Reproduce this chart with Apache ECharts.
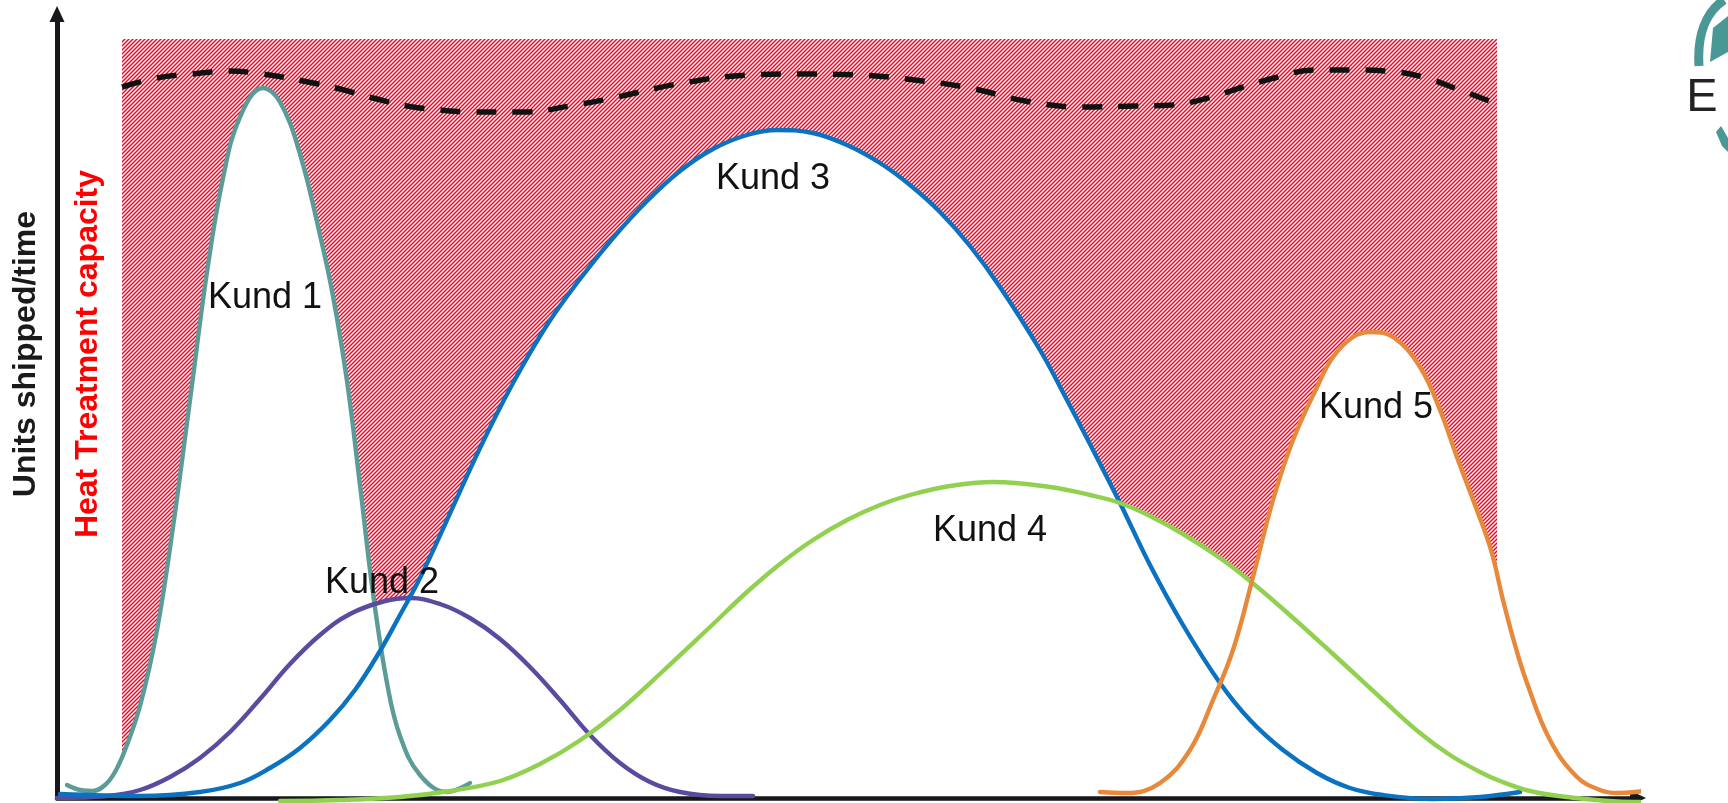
<!DOCTYPE html>
<html>
<head>
<meta charset="utf-8">
<script src="https://cdn.jsdelivr.net/npm/echarts@6/dist/echarts.min.js"></script>
<style>
html,body{margin:0;padding:0;background:#fff;}
#chart{width:1728px;height:803px;}
</style>
</head>
<body>
<div id="chart"></div>
<script>
// ---- data (x: time units, y: units shipped/time) ----
const customers = ['Kund 1', 'Kund 2', 'Kund 3', 'Kund 4', 'Kund 5'];
const kund1 = [[10,13],[23,8],[36,7],[48,13],[58,26],[68,48],[83,92],[100,168],[116,271],[133,398],[150,526],[166,620],[183,681],[206,710],[223,696],[243,644],[263,563],[276,502],[290,417],[303,313],[316,205],[330,115],[343,62],[363,23],[390,6],[413,15]];
const kund2 = [[0,0],[50,2],[83,8],[113,21],[143,40],[173,66],[203,99],[233,134],[263,163],[293,184],[328,197],[353,200],[383,194],[413,180],[443,159],[473,131],[503,98],[533,63],[563,35],[593,16],[623,6],[663,2],[696,2]];
const kund3 = [[3,4],[83,2],[143,6],[183,15],[213,30],[243,50],[273,78],[298,108],[323,147],[343,183],[363,220],[390,278],[423,350],[456,415],[490,473],[523,519],[556,560],[590,597],[623,627],[656,649],[690,663],[720,668],[756,665],[790,653],[823,635],[853,613],[883,586],[913,552],[943,511],[983,448],[1010,398],[1036,348],[1063,295],[1093,233],[1126,173],[1163,115],[1193,78],[1226,48],[1260,25],[1293,10],[1326,3],[1376,-1],[1423,1],[1463,6]];
const kund4 = [[223,-3],[283,-2],[343,1],[393,7],[443,17],[483,34],[522,57],[563,88],[605,126],[653,171],[690,206],[723,234],[756,258],[790,278],[823,293],[853,303],[893,312],[936,316],[993,311],[1033,303],[1063,295],[1093,282],[1126,264],[1163,240],[1193,217],[1226,189],[1276,144],[1326,98],[1363,65],[1393,43],[1423,26],[1443,17],[1473,7],[1510,1],[1576,-4],[1671,-2]];
const kund5 = [[1043,6],[1070,5],[1103,15],[1133,48],[1156,98],[1176,148],[1196,221],[1216,298],[1236,358],[1260,411],[1276,441],[1296,461],[1313,466],[1336,461],[1363,431],[1383,388],[1401,338],[1418,293],[1434,248],[1446,198],[1458,153],[1470,115],[1493,58],[1520,21],[1543,8],[1560,5],[1578,6],[1596,9]];
const demandTotal = [[65,711],[100,720],[135,724],[170,727],[206,724],[246,717],[283,709],[316,700],[350,692],[383,688],[416,686],[466,686],[513,692],[560,701],[626,715],[692,723],[747,724],[803,723],[858,718],[913,710],[968,697],[1023,691],[1078,692],[1115,693],[1151,700],[1186,711],[1221,721],[1256,728],[1293,728],[1330,727],[1366,721],[1400,709],[1438,695]];
const capStart = 65, capEnd = 1440, capTop = 759;
const labelPos = [[208,500],[325,215],[716,619],[933,267],[1319,390]];
const yTitle = 'Units shipped/time';
const capTitle = 'Heat Treatment capacity';

const curves = [kund1, kund2, kund3, kund4, kund5];
const colors = ['#5b9b98', '#5b4b9f', '#0a72c0', '#92d050', '#e8883a'];

// hatch pattern
const pc = document.createElement('canvas');
pc.width = 4; pc.height = 4;
const g = pc.getContext('2d');
g.fillStyle = '#ffffff'; g.fillRect(0,0,4,4);
g.strokeStyle = '#d0102f'; g.lineWidth = 1.45;
g.beginPath();
g.moveTo(0,4); g.lineTo(4,0);
g.moveTo(-1,1); g.lineTo(1,-1);
g.moveTo(3,5); g.lineTo(5,3);
g.stroke();

const FONT = "'Liberation Sans', Arial, Helvetica, sans-serif";

const series = [];
series.push({
  type: 'line', name: 'capacity', data: [[capStart, capTop], [capEnd, capTop]],
  symbol: 'none', lineStyle: {width: 0, opacity: 0},
  areaStyle: {color: {image: pc, repeat: 'repeat'}, opacity: 1},
  z: 1, silent: true
});
curves.forEach((d, i) => {
  series.push({
    type: 'line', name: customers[i] + ' fill', data: d, smooth: 0.4, symbol: 'none',
    lineStyle: {width: 0, opacity: 0}, areaStyle: {color: '#ffffff', opacity: 1},
    z: 2, silent: true, clip: false
  });
});
curves.forEach((d, i) => {
  series.push({
    type: 'line', name: customers[i], data: d, smooth: 0.4, symbol: 'none',
    lineStyle: {width: 4.4, color: colors[i], cap: 'round'},
    z: 4, silent: true, clip: false
  });
});
series.push({
  type: 'line', name: 'demand', data: demandTotal, smooth: 0.4, symbol: 'none',
  lineStyle: {width: 5.5, color: '#111111', type: [20, 16], cap: 'butt'},
  z: 5, silent: true
});
series.push({
  type: 'scatter', name: 'labels',
  data: labelPos.map((p, i) => ({value: p, name: customers[i]})),
  symbolSize: 1, itemStyle: {color: 'rgba(255,255,255,0)'},
  label: {show: true, position: 'inside', formatter: '{b}', fontSize: 36, fontFamily: FONT,
          color: '#111111', textBorderWidth: 0, opacity: 1},
  z: 6, silent: true
});

const chart = echarts.init(document.getElementById('chart'), null, {renderer: 'canvas'});
chart.setOption({
  animation: false,
  backgroundColor: '#ffffff',
  grid: {left: 57, right: 90, top: 14, bottom: 5, containLabel: false},
  xAxis: {
    type: 'value', min: 0, max: 1581, z: 3,
    axisLine: {show: true, symbol: ['none', 'triangle'], symbolSize: [15, 16], lineStyle: {color: '#17171c', width: 4.5}},
    axisTick: {show: false}, axisLabel: {show: false}, splitLine: {show: false}
  },
  yAxis: {
    type: 'value', min: 0, max: 784, z: 3,
    axisLine: {show: true, symbol: ['none', 'triangle'], symbolSize: [15, 16], lineStyle: {color: '#17171c', width: 5}},
    axisTick: {show: false}, axisLabel: {show: false}, splitLine: {show: false}
  },
  graphic: [
    {type: 'text', x: 26, y: 354, rotation: Math.PI / 2, z: 10,
     style: {text: yTitle, font: "bold 32px " + FONT, fill: '#1a1a1a', textAlign: 'center', textVerticalAlign: 'middle'}},
    {type: 'text', x: 88, y: 354, rotation: Math.PI / 2, z: 10,
     style: {text: capTitle, font: "bold 32px " + FONT, fill: '#ff0000', textAlign: 'center', textVerticalAlign: 'middle'}},
    {type: 'text', x: 1702, y: 98, z: 10,
     style: {text: 'E', font: "47px " + FONT, fill: '#222222', textAlign: 'center', textVerticalAlign: 'middle'}},
    {type: 'bezierCurve', z: 10, shape: {x1: 1699, y1: 66, cpx1: 1697, cpy1: 35, cpx2: 1706, cpy2: 12, x2: 1724, y2: 0},
     style: {stroke: '#4a9896', lineWidth: 9, fill: null}},
    {type: 'polygon', z: 10, shape: {points: [[1713,28],[1728,16],[1728,52],[1710,62]]}, style: {fill: '#4a9896'}},
    {type: 'polygon', z: 10, shape: {points: [[1716,132],[1721,126],[1728,138],[1728,152],[1722,146]]}, style: {fill: '#4a9896'}}
  ],
  series: series
});
</script>
</body>
</html>
